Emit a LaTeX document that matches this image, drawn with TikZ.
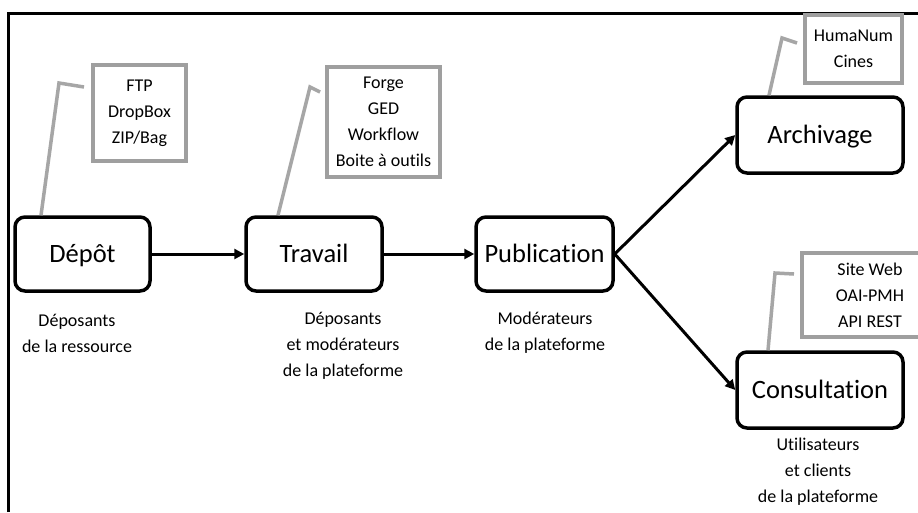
\documentclass[tikz,border=0pt]{standalone}
\usepackage{fontspec}
\setmainfont[RawFeature=-liga]{Carlito}
\usetikzlibrary{arrows.meta}
\begin{document}
\begin{tikzpicture}[x=1pt,y=-1pt,
  stage/.style={draw=black,line width=3.5pt,rounded corners=10pt,minimum height=74pt,font=\fontsize{26.5}{30}\selectfont,inner sep=0pt,text height=19.5pt,text depth=2.5pt},
  tool/.style={draw=gray!75,line width=3.5pt,align=center,font=\fontsize{18}{26}\selectfont,inner sep=0pt},
  role/.style={align=center,font=\fontsize{18}{26}\selectfont},
  callout/.style={draw=gray!70,line width=3.5pt},
  flow/.style={draw=black,line width=3pt,-{Triangle[length=10pt,width=10pt]}}]
\useasboundingbox (0,0) rectangle (918,512);
\fill[white] (0,0) rectangle (918,512);
\draw[line width=3pt] (8,512) -- (8,13) -- (918,13);
% stages
\node[stage,minimum width=135pt] (depot) at (82.5,254) {Dépôt};
\node[stage,minimum width=136pt] (travail) at (314,254) {Travail};
\node[stage,minimum width=137pt] (pub) at (544.5,254) {Publication};
\node[stage,minimum width=166pt,minimum height=76pt] (arch) at (820,135) {Archivage};
\node[stage,minimum width=166pt,minimum height=76pt] (cons) at (820,390) {Consultation};
% tool boxes
\node[tool,minimum width=93pt,minimum height=96pt] (t1) at (139.5,113) {FTP\\DropBox\\ZIP/Bag};
\node[tool,minimum width=113pt,minimum height=110pt] (t2) at (383.5,122) {Forge\\GED\\Workflow\\Boite à outils};
\node[tool,minimum width=97pt,minimum height=68pt] (t3) at (853.5,49) {HumaNum\\Cines};
\node[tool,minimum width=136pt,minimum height=84pt] (t4) at (870,295) {Site Web\\OAI-PMH\\API REST};
% callouts
\coordinate (c1a) at (59,83); \coordinate (c1b) at (84,87);
\draw[callout] (depot.north -| 41,0) -- (c1a) -- (c1b);
\coordinate (c2a) at (310,87); \coordinate (c2b) at (320,92);
\draw[callout] (travail.north -| 278,0) -- (c2a) -- (c2b);
\coordinate (c3a) at (782,38); \coordinate (c3b) at (797,43);
\draw[callout] (arch.north -| 769,0) -- (c3a) -- (c3b);
\coordinate (c4a) at (775,273); \coordinate (c4b) at (794,274);
\draw[callout] (cons.north -| 768,0) -- (c4a) -- (c4b);
% flows
\draw[flow] (depot) -- (travail);
\draw[flow] (travail) -- (pub);
\draw[flow] (pub.east) -- (arch.west);
\draw[flow] (pub.east) -- (cons.west);
% roles
\node[role] (r1) at (77,333) {Déposants\\de la ressource};
\node[role] (r2) at (343,346) {Déposants\\et modérateurs\\de la plateforme};
\node[role] (r3) at (545,333) {Modérateurs\\de la plateforme};
\node[role] (r4) at (818,472) {Utilisateurs\\et clients\\de la plateforme};
\end{tikzpicture}
\end{document}
